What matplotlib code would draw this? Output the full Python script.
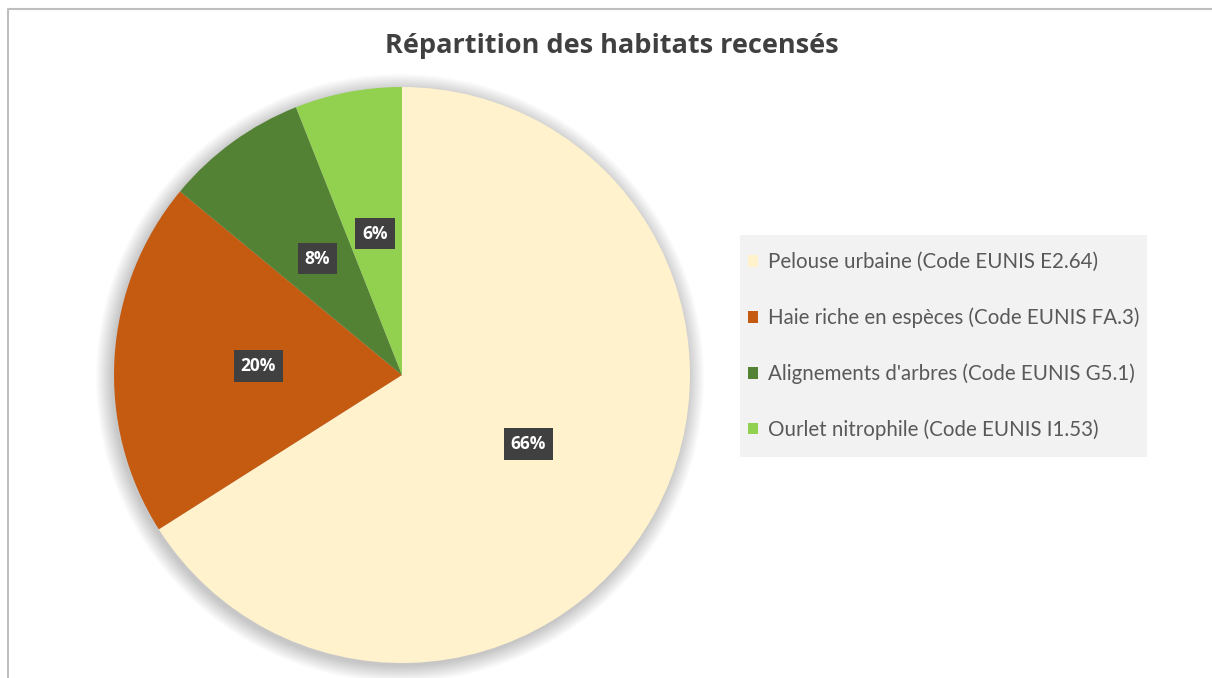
import matplotlib.pyplot as plt
from matplotlib.patches import Circle, Rectangle

# Data
labels = [
    "Pelouse urbaine (Code EUNIS E2.64)",
    "Haie riche en espèces (Code EUNIS FA.3)",
    "Alignements d'arbres (Code EUNIS G5.1)",
    "Ourlet nitrophile (Code EUNIS I1.53)",
]
values = [66, 20, 8, 6]
colors = ["#FFF2CC", "#C55A11", "#548235", "#92D050"]
title = "Répartition des habitats recensés"

plt.rcParams['font.family'] = ['Open Sans', 'DejaVu Sans']

W, H = 1212, 678
fig = plt.figure(figsize=(W / 100, H / 100), dpi=100)
ax = fig.add_axes([0, 0, 1, 1])

cx, cy, r = 402, H - 375, 288

# soft shadow round the pie
for k in range(14):
    ax.add_patch(Circle((cx - 2, cy - 3), r + 16 - k * 1.2, color='#000000',
                        alpha=0.016, lw=0, zorder=0))

wedges, texts, autotexts = ax.pie(
    values, colors=colors, startangle=90, counterclock=False,
    center=(cx, cy), radius=r, autopct='%1.0f%%', pctdistance=0.5,
    wedgeprops=dict(linewidth=0), frame=False,
    textprops=dict(color='white', fontweight='bold', fontsize=12.5),
)
for w in wedges:
    w.set_zorder(2)
for t in autotexts:
    t.set_zorder(5)
    t.set_bbox(dict(boxstyle='square,pad=0.4', fc='#404040', ec='none'))

ax.set_xlim(0, W)
ax.set_ylim(0, H)
ax.set_aspect('equal')
ax.axis('off')

# chart frame (left and top edges visible)
ax.plot([8, 8, W], [0, H - 9, H - 9], color='#BFBFBF', lw=1.5, zorder=1,
        clip_on=False)

fig.text(612 / W, 1 - 46 / H, title, ha='center', va='center',
         fontsize=19.5, fontweight='bold', color='#404040')

# legend background box
ax.add_patch(Rectangle((740, H - 457), 407, 222, fc='#F2F2F2', ec='none',
                       zorder=1))
leg = ax.legend(wedges, labels, loc='center left',
                bbox_to_anchor=(744 / W, 1 - 346 / H),
                bbox_transform=fig.transFigure, frameon=False,
                prop=dict(family=['Lato', 'DejaVu Sans'], size=14.8),
                labelcolor='#595959', handlelength=0.5, handleheight=0.5,
                handletextpad=0.45, labelspacing=1.72, borderpad=0.2,
                borderaxespad=0)

fig.savefig('out.png', dpi=100)
